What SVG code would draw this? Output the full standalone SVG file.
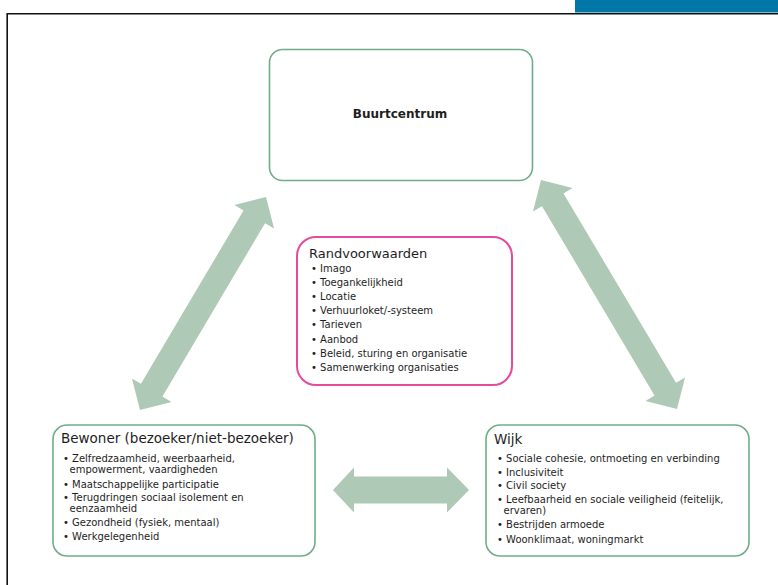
<svg xmlns="http://www.w3.org/2000/svg" width="778" height="585" viewBox="0 0 778 585">
<style>
  text { font-family: "DejaVu Sans", "Noto Sans", sans-serif; fill: #1e1e1e; }
  .item { font-size: 10px; }
  .title { font-size: 13px; }
  .gbox { fill: #ffffff; stroke: #70ad86; stroke-width: 1.6; }
  .pbox { fill: #ffffff; stroke: #e64a9c; stroke-width: 2; }
  .arrow { fill: #aecab6; stroke: none; }
</style>
<rect x="0" y="0" width="778" height="585" fill="#ffffff"/>
<rect x="575" y="0" width="203" height="12.5" fill="#0077a7"/>
<path d="M778,13.8 H7.2 V585" fill="none" stroke="#111111" stroke-width="1.6"/>

<g id="connectors">
  <polygon class="arrow" points="266,197 274.08,228.5 265.05,223.15 162.47,396.57 171.5,401.92 140,410 131.92,378.5 140.95,383.85 243.53,210.43 234.5,205.08"/>
  <polygon class="arrow" points="541,180 572.53,188.03 563.5,193.4 676,382.84 685.03,377.47 677,409 645.47,400.97 654.5,395.6 542,206.16 532.97,211.53"/>
  <polygon class="arrow" points="333,490 354,467.5 354,476.5 447,476.5 447,467.5 469,490 447,512.5 447,503.5 354,503.5 354,512.5"/>
</g>

<g id="buurtcentrum">
  <rect class="gbox" x="269.5" y="49.5" width="263" height="131" rx="13"/>
  <text x="400" y="118" font-size="12" font-weight="bold" text-anchor="middle">Buurtcentrum</text>
</g>

<g id="randvoorwaarden">
  <rect class="pbox" x="297" y="237" width="215" height="148" rx="19"/>
  <text class="title" x="309" y="258">Randvoorwaarden</text>
  <text class="item" x="311" y="272">• Imago</text>
  <text class="item" x="311" y="286">• Toegankelijkheid</text>
  <text class="item" x="311" y="300">• Locatie</text>
  <text class="item" x="311" y="314">• Verhuurloket/-systeem</text>
  <text class="item" x="311" y="328">• Tarieven</text>
  <text class="item" x="311" y="343">• Aanbod</text>
  <text class="item" x="311" y="357">• Beleid, sturing en organisatie</text>
  <text class="item" x="311" y="371">• Samenwerking organisaties</text>
</g>

<g id="bewoner">
  <rect class="gbox" x="53" y="425" width="262" height="131" rx="14"/>
  <text x="61" y="443" font-size="13.5">Bewoner (bezoeker/niet-bezoeker)</text>
  <text class="item" x="63" y="462">• Zelfredzaamheid, weerbaarheid,</text>
  <text class="item" x="69.5" y="473">empowerment, vaardigheden</text>
  <text class="item" x="63" y="488">• Maatschappelijke participatie</text>
  <text class="item" x="63" y="501">• Terugdringen sociaal isolement en</text>
  <text class="item" x="69.5" y="512">eenzaamheid</text>
  <text class="item" x="63" y="526">• Gezondheid (fysiek, mentaal)</text>
  <text class="item" x="63" y="540">• Werkgelegenheid</text>
</g>

<g id="wijk">
  <rect class="gbox" x="486" y="425" width="263" height="131" rx="14"/>
  <text x="494" y="444" font-size="13.5">Wijk</text>
  <text class="item" x="497" y="462">• Sociale cohesie, ontmoeting en verbinding</text>
  <text class="item" x="497" y="476">• Inclusiviteit</text>
  <text class="item" x="497" y="489">• Civil society</text>
  <text class="item" x="497" y="503">• Leefbaarheid en sociale veiligheid (feitelijk,</text>
  <text class="item" x="503.5" y="514">ervaren)</text>
  <text class="item" x="497" y="528">• Bestrijden armoede</text>
  <text class="item" x="497" y="543">• Woonklimaat, woningmarkt</text>
</g>
</svg>
